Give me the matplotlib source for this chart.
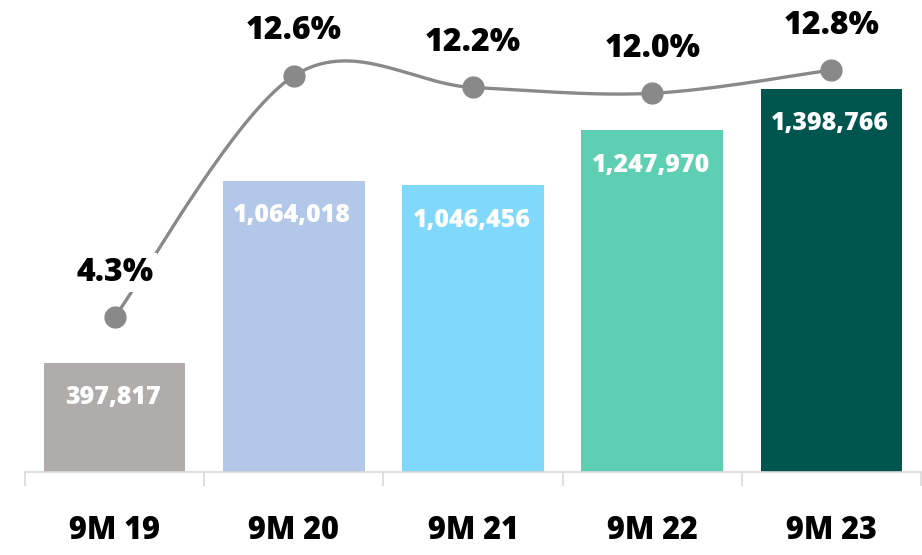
import numpy as np
import matplotlib
matplotlib.use("Agg")
import matplotlib.pyplot as plt

plt.rcParams['font.family'] = ['Open Sans', 'DejaVu Sans']

# --- data ---
periods = ['9M 19', '9M 20', '9M 21', '9M 22', '9M 23']
amounts = [397817, 1064018, 1046456, 1247970, 1398766]
ratios = [4.3, 12.6, 12.2, 12.0, 12.8]
bar_colors = ['#b0acab', '#b3c7e8', '#80d8fb', '#5fcfb3', '#00564f']
line_color = '#898989'


def catmull_rom(xs, ys, n=40):
    # Excel-like smoothed line through the points
    pts = np.column_stack([xs, ys]).astype(float)
    pts = np.vstack([pts[0], pts, pts[-1]])
    out = []
    t = np.linspace(0, 1, n)
    for i in range(1, len(pts) - 2):
        p0, p1, p2, p3 = pts[i - 1], pts[i], pts[i + 1], pts[i + 2]
        m1 = (p2 - p0) / 2
        m2 = (p3 - p1) / 2
        h00 = 2 * t**3 - 3 * t**2 + 1
        h10 = t**3 - 2 * t**2 + t
        h01 = -2 * t**3 + 3 * t**2
        h11 = t**3 - t**2
        seg = (np.outer(h00, p1) + np.outer(h10, m1)
               + np.outer(h01, p2) + np.outer(h11, m2))
        out.append(seg if i == 1 else seg[1:])
    out = np.vstack(out)
    return out[:, 0], out[:, 1]


fig = plt.figure(figsize=(9.22, 5.55), dpi=100)
ax = fig.add_axes([25 / 922, 83 / 555, 896 / 922, 472 / 555])

x = np.arange(len(periods))
ax.bar(x, amounts, width=0.79, color=bar_colors, zorder=2)
ax.set_xlim(-0.5, len(periods) - 0.5)
ax.set_ylim(0, 1723800)

for xi, v in zip(x, amounts):
    ax.annotate(f'{v:,}', (xi, v), xytext=(-1, -25), textcoords='offset points',
                ha='center', va='center', color='white', fontsize=18,
                fontweight=800, zorder=3)

# axis styling
for s in ['top', 'right', 'left']:
    ax.spines[s].set_visible(False)
ax.spines['bottom'].set_color('#d9d9d9')
ax.spines['bottom'].set_linewidth(1.2)
ax.set_yticks([])
ax.set_xticks(x)
ax.set_xticklabels(periods, fontsize=22, fontweight=800)
ax.tick_params(axis='x', which='major', length=0, pad=31)
ax.set_xticks(np.arange(-0.5, len(periods)), minor=True)
ax.tick_params(axis='x', which='minor', length=10, width=1.2, color='#d9d9d9')

# ratio line on a hidden second axis
ax2 = ax.twinx()
ax2.set_ylim(-1.03, 15.21)
ax2.axis('off')
sx, sy = catmull_rom(x, ratios)
ax2.plot(sx, sy, color=line_color, linewidth=2.4, zorder=2)
ax2.plot(x, ratios, 'o', color=line_color, markersize=15, zorder=3)
for xi, r in zip(x, ratios):
    ax2.annotate(f'{r:.1f}%', (xi, r), xytext=(0, 32), textcoords='offset points',
                 ha='center', va='center', fontsize=23, fontweight=800,
                 color='black', zorder=4,
                 bbox=dict(boxstyle='square,pad=0.12', fc='white', ec='none'))

fig.savefig('out.png', dpi=100)
